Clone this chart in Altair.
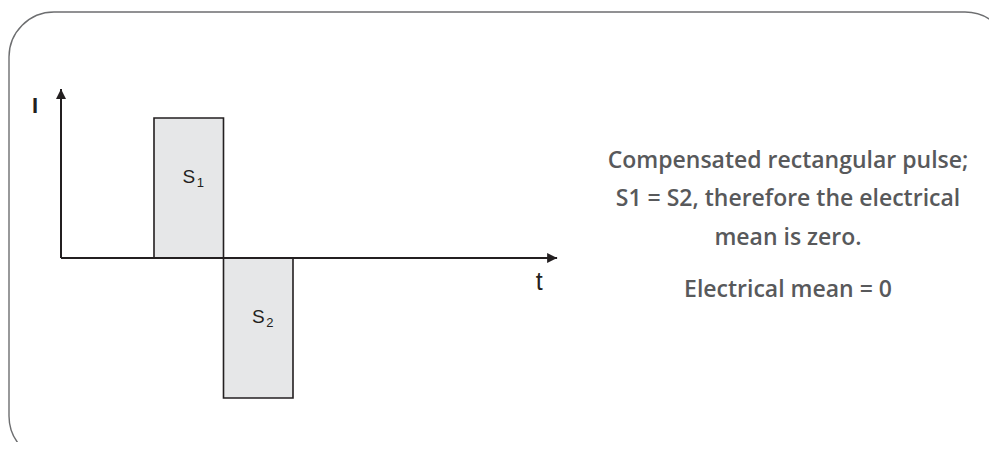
import altair as alt
import pandas as pd

# ---- data ----
pulse_names = ["S", "S"]
pulse_sub = ["1", "2"]
pulse_start = [1.0, 2.0]   # t units
pulse_end = [2.0, 3.0]
pulse_amp = [1.0, -1.0]    # I units

axis_t_start = -0.338      # where the I axis sits
axis_t_end = 6.80          # tip of the t arrow
axis_i_end = 1.207         # tip of the I arrow

axis_labels = ["I", "t"]

note_lines = ["Compensated rectangular pulse;",
              "S1 = S2, therefore the electrical",
              "mean is zero."]
note_result = "Electrical mean = 0"

W, H = 981, 434
xs = alt.Scale(domain=[-1.1007, 13.0144], nice=False, zero=False)
ys = alt.Scale(domain=[-1.3143, 1.7857], nice=False, zero=False)

DARK = "#231f20"
GREY = "#58595b"
SANS = "Liberation Sans"

pulses = pd.DataFrame({"name": pulse_names, "sub": pulse_sub,
                       "t0": pulse_start, "t1": pulse_end,
                       "amp": pulse_amp})
pulses["zero"] = 0.0
pulses["tm"] = (pulses["t0"] + pulses["t1"]) / 2
pulses["im"] = pulses["amp"] / 2

axes_df = pd.DataFrame({"t0": [axis_t_start], "t1": [axis_t_end],
                        "i0": [0.0], "i1": [axis_i_end]})

one = pd.DataFrame({"k": [0]})

frame = alt.Chart(one).mark_rect(
    cornerRadius=45, fillOpacity=0, stroke="#6d6e70", strokeWidth=1.4
).encode(x=alt.value(1), x2=alt.value(1002), y=alt.value(4), y2=alt.value(453))

rects = alt.Chart(pulses).mark_rect(
    fill="#e6e7e8", stroke=DARK, strokeWidth=1.6
).encode(
    x=alt.X("t0:Q", scale=xs, axis=None), x2="t1:Q",
    y=alt.Y("zero:Q", scale=ys, axis=None), y2="amp:Q",
)

h_axis = alt.Chart(axes_df).mark_rule(color=DARK, strokeWidth=2).encode(
    x=alt.X("t0:Q", scale=xs, axis=None), x2="t1:Q",
    y=alt.Y("i0:Q", scale=ys, axis=None),
)
v_axis = alt.Chart(axes_df).mark_rule(color=DARK, strokeWidth=2).encode(
    x=alt.X("t0:Q", scale=xs, axis=None),
    y=alt.Y("i0:Q", scale=ys, axis=None), y2="i1:Q",
)
up_head = alt.Chart(axes_df).mark_point(
    shape="M0,0L-1,2L1,2Z", filled=True, opacity=1, size=100, color=DARK
).encode(x=alt.X("t0:Q", scale=xs, axis=None), y=alt.Y("i1:Q", scale=ys, axis=None))
right_head = alt.Chart(axes_df).mark_point(
    shape="M0,0L-2,-1L-2,1Z", filled=True, opacity=1, size=100, color=DARK
).encode(x=alt.X("t1:Q", scale=xs, axis=None), y=alt.Y("i0:Q", scale=ys, axis=None))

i_label = alt.Chart(axes_df).mark_text(
    text=axis_labels[0], font=SANS, fontSize=22, fontWeight="bold", color=DARK,
    align="center", baseline="alphabetic", dx=-26, dy=24
).encode(x=alt.X("t0:Q", scale=xs, axis=None), y=alt.Y("i1:Q", scale=ys, axis=None))
t_label = alt.Chart(axes_df).mark_text(
    text=axis_labels[1], font=SANS, fontSize=25, color=DARK,
    align="center", baseline="alphabetic", dx=-18, dy=32
).encode(x=alt.X("t1:Q", scale=xs, axis=None), y=alt.Y("i0:Q", scale=ys, axis=None))

s_text = alt.Chart(pulses).mark_text(
    font=SANS, fontSize=19, color=DARK, align="center", baseline="alphabetic", dy=-5
).encode(x=alt.X("tm:Q", scale=xs, axis=None), y=alt.Y("im:Q", scale=ys, axis=None),
         text="name:N")
s_sub = alt.Chart(pulses).mark_text(
    font=SANS, fontSize=13, color=DARK, align="left", baseline="alphabetic", dx=8, dy=-1
).encode(x=alt.X("tm:Q", scale=xs, axis=None), y=alt.Y("im:Q", scale=ys, axis=None),
         text="sub:N")

note_df = pd.DataFrame({"txt": ["\n".join(note_lines)]})
note = alt.Chart(note_df).mark_text(
    font="Open Sans", fontWeight=600, fontSize=23, color=GREY, align="center",
    baseline="alphabetic", lineBreak="\n", lineHeight=38.3
).encode(x=alt.value(780), y=alt.value(160), text="txt:N")

result_df = pd.DataFrame({"txt": [note_result]})
result = alt.Chart(result_df).mark_text(
    font="Open Sans", fontWeight=600, fontSize=23, color=GREY, align="center",
    baseline="alphabetic"
).encode(x=alt.value(780), y=alt.value(289), text="txt:N")

chart = alt.layer(
    frame, rects, h_axis, v_axis, up_head, right_head,
    i_label, t_label, s_text, s_sub, note, result
).properties(
    width=W, height=H, padding=0,
    autosize=alt.AutoSizeParams(type="none"),
    background="white",
).configure_view(stroke=None)

chart.save("out.html", embed_options={"renderer": "svg", "actions": False})
